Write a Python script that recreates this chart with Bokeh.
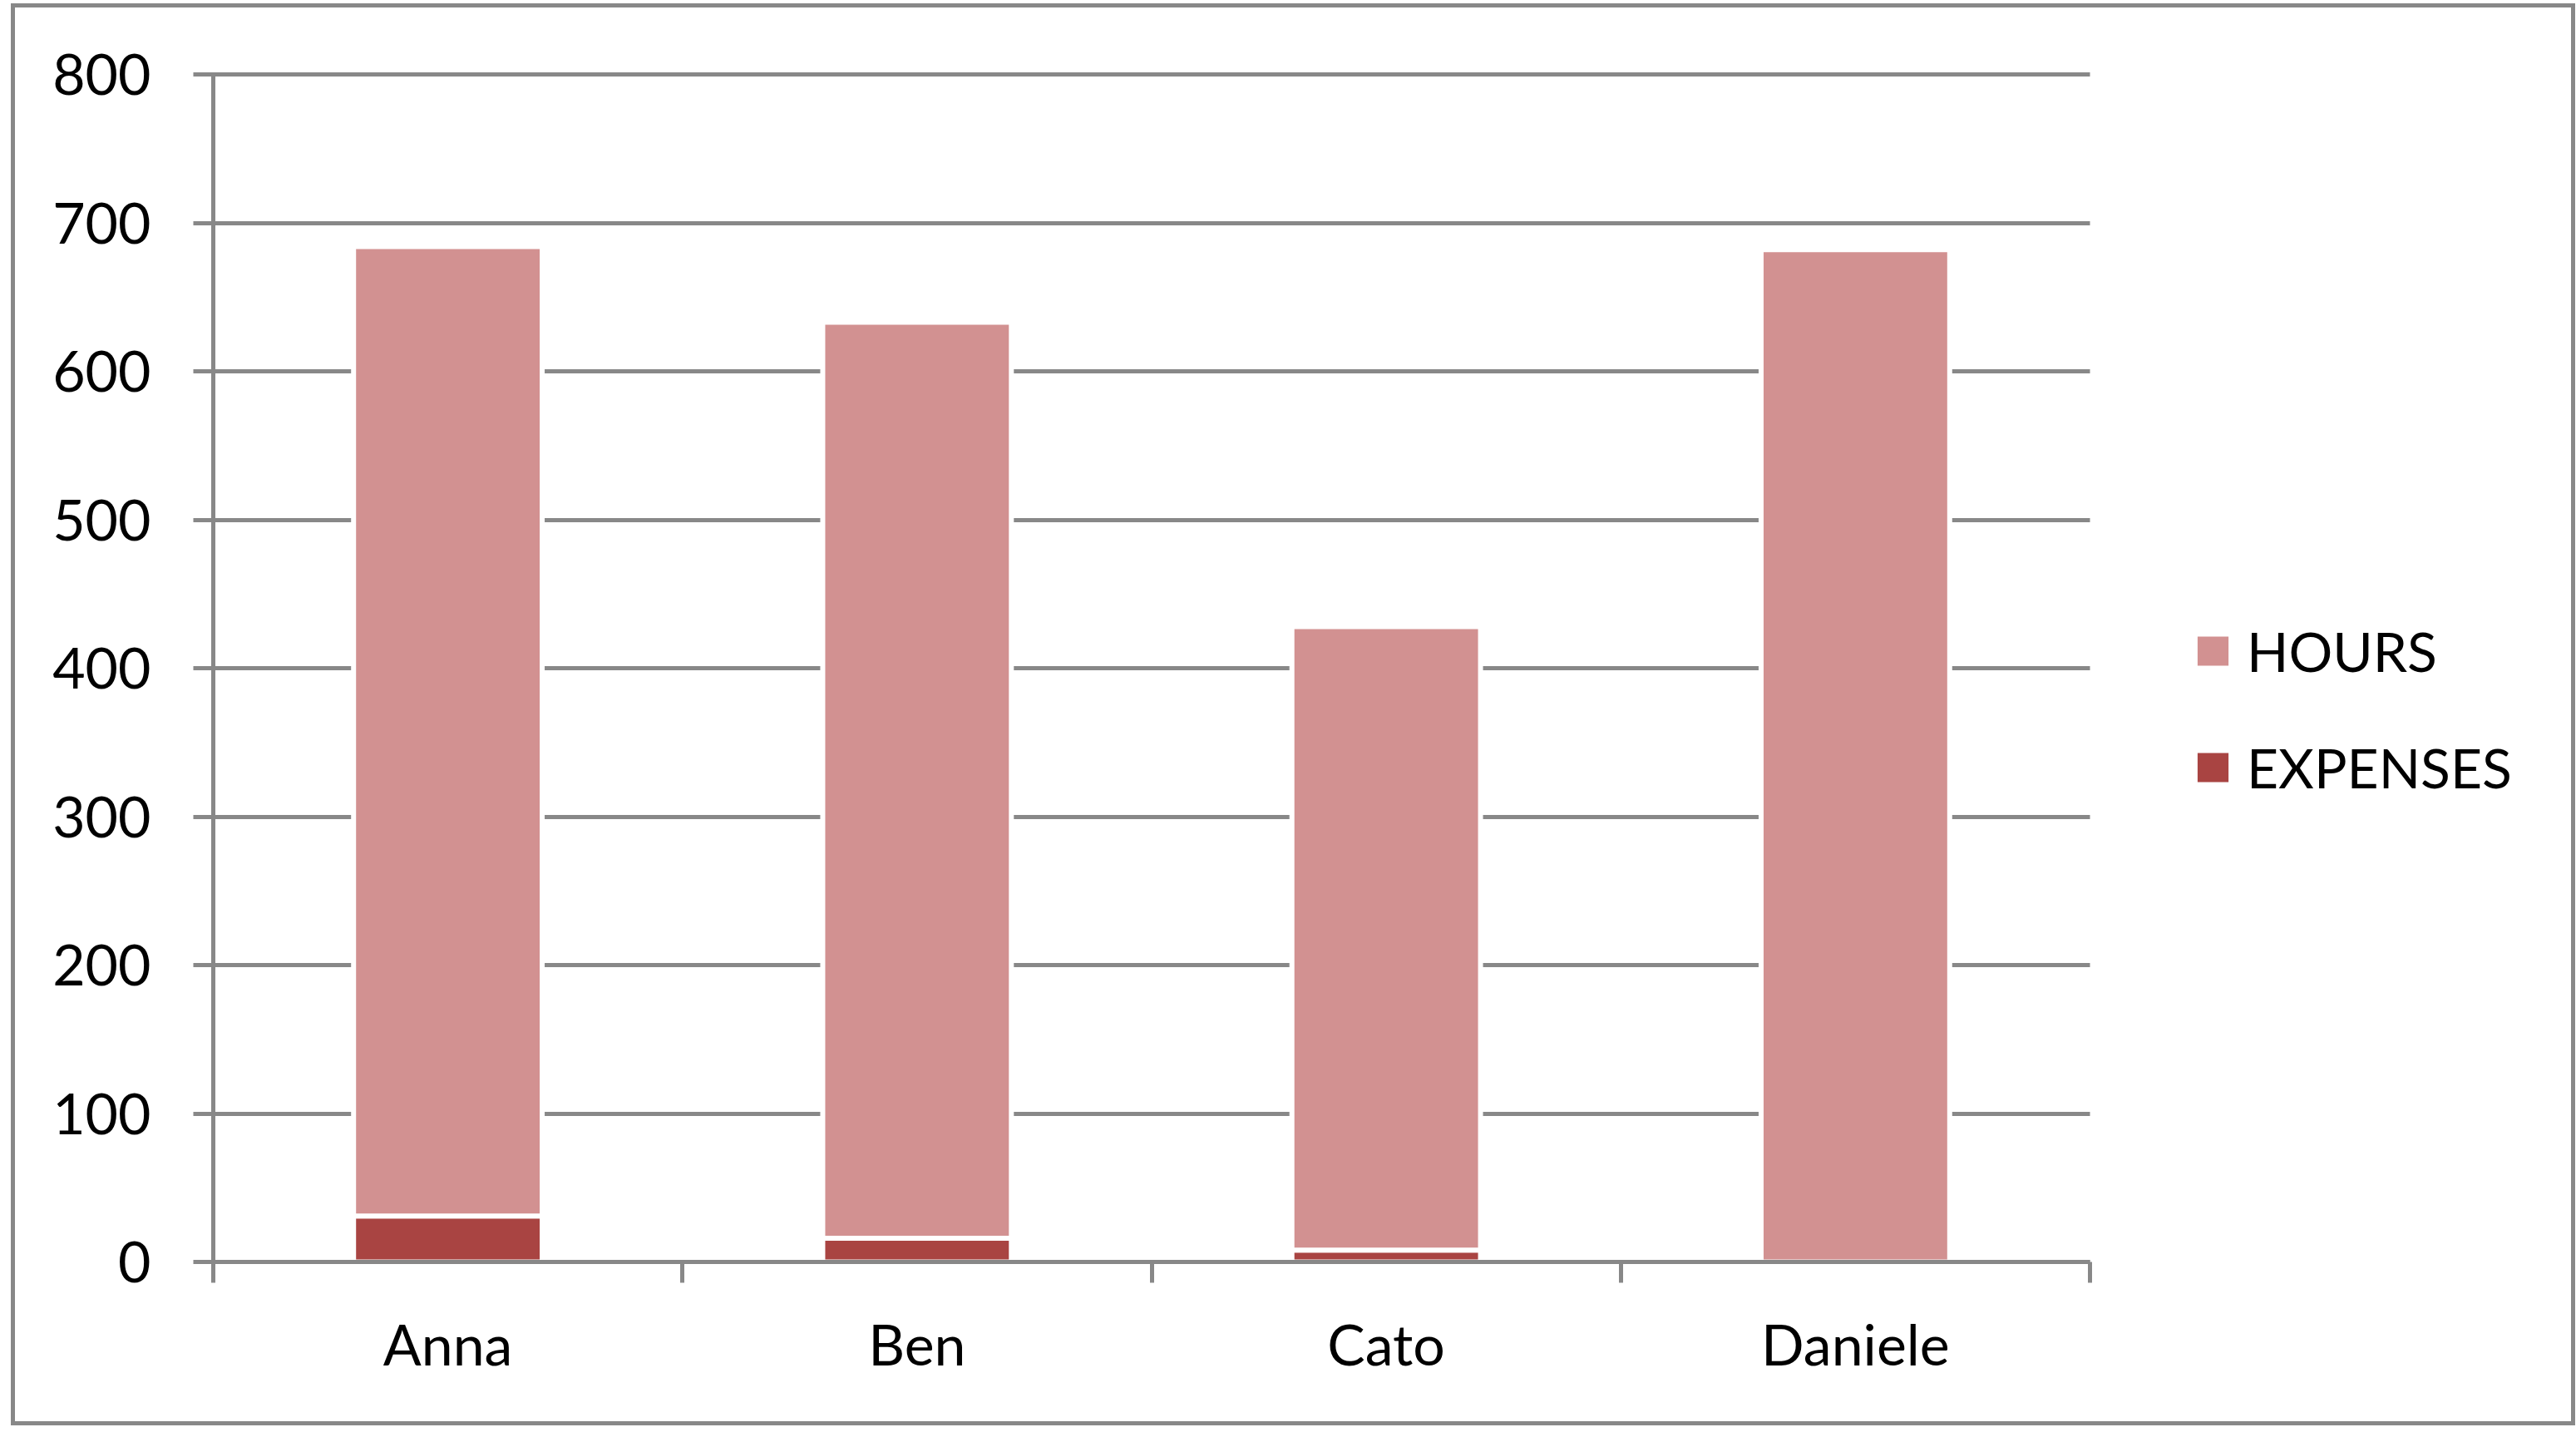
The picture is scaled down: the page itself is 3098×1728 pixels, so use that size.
from bokeh.plotting import figure
from bokeh.models import Range1d, FixedTicker, Legend, LegendItem, ColumnDataSource
from bokeh.embed import file_html
from bokeh.resources import INLINE

categories = ["Anna", "Ben", "Cato", "Daniele"]
hours = [653, 617, 420, 682]
expenses = [31, 16, 8, 0]
y_ticks = [0, 100, 200, 300, 400, 500, 600, 700, 800]
series_names = ["HOURS", "EXPENSES"]

PINK = "#D29191"
DARK = "#A94442"
GREY = "#888888"
FONT = "Lato"
FS = "68px"

# layout (pixels)
W, H = 3074, 1700
LEFT, TOP, BOTTOM = 238, 80, 192
PLOT_W = 2257            # width of the category area
FRAME_W = W - LEFT       # frame extends to the right edge (room for legend)

n = len(categories)
x_pos = [i + 0.5 for i in range(n)]
bounds = list(range(n + 1))
x_end = n * FRAME_W / PLOT_W

source = ColumnDataSource(dict(x=x_pos, hours=hours, expenses=expenses))

p = figure(width=W, height=H, output_backend="svg", toolbar_location=None,
           x_range=Range1d(0, x_end), y_range=Range1d(0, y_ticks[-1]),
           min_border_left=LEFT, min_border_right=0, min_border_top=TOP,
           min_border_bottom=BOTTOM)
p.margin = (9, 0, 0, 18)
p.styles = {"outline": "5px solid #888888", "outline-offset": "0px"}
p.outline_line_color = None
p.background_fill_color = "white"
p.border_fill_color = "white"
p.xgrid.grid_line_color = None
p.ygrid.grid_line_color = None

renderers = p.vbar_stack(["expenses", "hours"], x="x", width=0.402, source=source,
                         fill_color=[DARK, PINK], line_color="white", line_width=6)
r_exp, r_hours = renderers
for r in renderers:
    r.level = "annotation"   # bars above the grid-like ticks

# y axis; its long inward ticks act as the horizontal grid lines
p.yaxis.ticker = FixedTicker(ticks=y_ticks, minor_ticks=[])
p.yaxis.axis_line_color = GREY
p.yaxis.axis_line_width = 5
p.yaxis.major_tick_line_color = GREY
p.yaxis.major_tick_line_width = 5
p.yaxis.major_tick_out = 24
p.yaxis.major_tick_in = PLOT_W
p.yaxis.minor_tick_line_color = None
p.yaxis.major_label_text_font = FONT
p.yaxis.major_label_text_font_size = FS
p.yaxis.major_label_text_color = "black"
p.yaxis.major_label_standoff = 51

# x axis: labels at centres, ticks at category boundaries
p.xaxis.level = "overlay"
p.xaxis.bounds = (0, n)
p.xaxis.ticker = FixedTicker(ticks=x_pos, minor_ticks=bounds)
p.xaxis.major_label_overrides = {x: c for x, c in zip(x_pos, categories)}
p.xaxis.major_tick_line_color = None
p.xaxis.major_tick_out = 0
p.xaxis.major_tick_in = 0
p.xaxis.minor_tick_line_color = GREY
p.xaxis.minor_tick_line_width = 5
p.xaxis.minor_tick_out = 25
p.xaxis.minor_tick_in = 0
p.xaxis.axis_line_color = GREY
p.xaxis.axis_line_width = 5
p.xaxis.major_label_text_font = FONT
p.xaxis.major_label_text_font_size = FS
p.xaxis.major_label_text_color = "black"
p.xaxis.major_label_standoff = 32

legend = Legend(items=[LegendItem(label=series_names[0], renderers=[r_hours]),
                       LegendItem(label=series_names[1], renderers=[r_exp])],
                location=(2378, 545), orientation="vertical",
                glyph_width=54, glyph_height=51, label_height=100, spacing=40,
                padding=0, margin=0, border_line_color=None,
                background_fill_alpha=0, label_standoff=14,
                label_text_font=FONT, label_text_font_size="66px",
                label_text_color="black")
p.add_layout(legend)

open("out.html", "w").write(file_html(p, INLINE))
